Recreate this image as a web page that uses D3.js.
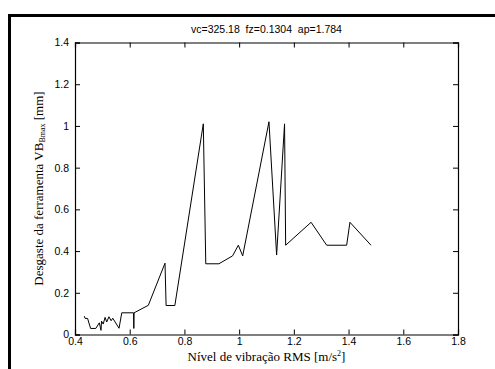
<!DOCTYPE html>
<html><head><meta charset="utf-8">
<script src="https://cdn.jsdelivr.net/npm/d3@7"></script>
<style>body{margin:0;background:#fff}svg{display:block}</style>
</head><body>
<svg id="c" width="495" height="369"></svg>
<script>
const vibration = [0.434,0.437,0.446,0.457,0.476,0.489,0.495,0.497,0.503,0.510,0.516,0.524,0.532,0.538,0.561,0.571,0.614,0.615,0.616,0.668,0.729,0.733,0.765,0.869,0.878,0.926,0.976,0.997,1.013,1.109,1.137,1.166,1.170,1.263,1.320,1.393,1.405,1.482];
const wear = [0.088,0.077,0.077,0.029,0.029,0.056,0.020,0.064,0.050,0.082,0.060,0.085,0.066,0.078,0.030,0.104,0.104,0.029,0.104,0.140,0.342,0.139,0.139,1.010,0.339,0.339,0.377,0.428,0.377,1.020,0.381,1.010,0.428,0.538,0.428,0.428,0.538,0.428];
const xTicks = [0.4,0.6,0.8,1,1.2,1.4,1.6,1.8];
const yTicks = [0,0.2,0.4,0.6,0.8,1,1.2,1.4];
const titleText = "vc=325.18  fz=0.1304  ap=1.784";

const svg = d3.select("#c");
const L=75, R=458, T=42.5, B=334.5;
const x = d3.scaleLinear().domain([0.4,1.8]).range([L,R]);
const y = d3.scaleLinear().domain([0,1.4]).range([B,T]);

// frame
svg.append("line").attr("x1",8).attr("x2",495).attr("y1",15.5).attr("y2",15.5).attr("stroke","#000").attr("stroke-width",3);
svg.append("line").attr("x1",9.5).attr("x2",9.5).attr("y1",14).attr("y2",369).attr("stroke","#000").attr("stroke-width",3);

const fmt = d => String(d);
const tk = 5;
// bottom axis
const gx = svg.append("g").attr("transform",`translate(0,${B})`)
  .call(d3.axisBottom(x).tickValues(xTicks).tickFormat(fmt).tickSize(-tk).tickPadding(3));
// top axis
const gxt = svg.append("g").attr("transform",`translate(0,${T})`)
  .call(d3.axisTop(x).tickValues(xTicks).tickFormat("").tickSize(-tk));
// left axis
const gy = svg.append("g").attr("transform",`translate(${L},0)`)
  .call(d3.axisLeft(y).tickValues(yTicks).tickFormat(fmt).tickSize(-tk).tickPadding(6));
// right axis
const gyr = svg.append("g").attr("transform",`translate(${R},0)`)
  .call(d3.axisRight(y).tickValues(yTicks).tickFormat("").tickSize(-tk));
[gx,gxt,gy,gyr].forEach(g=>{
  g.selectAll("path").attr("stroke","#000").attr("stroke-width",1.2);
  g.selectAll("line").attr("stroke","#000");
  g.selectAll("text").attr("font-family","'Liberation Sans', Arial, sans-serif").attr("font-size",10.5).attr("fill","#000");
});
gx.selectAll("text").attr("dy","0.71em");

// line
svg.append("path")
  .datum(vibration.map((v,i)=>[v,wear[i]]))
  .attr("fill","none").attr("stroke","#000").attr("stroke-width",1)
  .attr("d", d3.line().x(d=>x(d[0])).y(d=>y(d[1])));

// title
svg.append("text").attr("x",(L+R)/2).attr("y",33).attr("text-anchor","middle")
  .attr("font-family","'Liberation Sans', Arial, sans-serif").attr("font-size",10.5)
  .style("white-space","pre").text(titleText);

// x label
const xl = svg.append("text").attr("x",(L+R)/2).attr("y",361).attr("text-anchor","middle")
  .attr("font-family","'Liberation Serif', 'Times New Roman', serif").attr("font-size",13);
xl.append("tspan").text("Nível de vibração RMS [m/s");
xl.append("tspan").attr("font-size",8).attr("dy",-5).text("2");
xl.append("tspan").attr("dy",5).text("]");

// y label
const yl = svg.append("text").attr("transform",`translate(43,${(T+B)/2}) rotate(-90)`).attr("text-anchor","middle")
  .attr("font-family","'Liberation Serif', 'Times New Roman', serif").attr("font-size",13);
yl.append("tspan").text("Desgaste da ferramenta VB");
yl.append("tspan").attr("font-size",8).attr("dy",2).text("Bmax");
yl.append("tspan").attr("dy",-2).text(" [mm]");
</script>
</body></html>
